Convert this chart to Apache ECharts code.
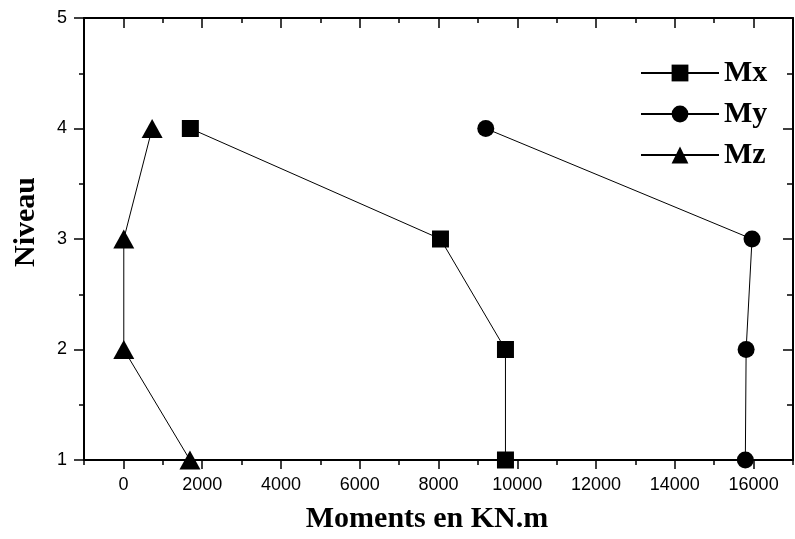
<!DOCTYPE html>
<html>
<head>
<meta charset="utf-8">
<script src="https://cdn.jsdelivr.net/npm/echarts@6/dist/echarts.min.js"></script>
<style>
html,body{margin:0;padding:0;background:#fff;}
#chart{width:795px;height:539px;}
</style>
</head>
<body>
<div id="chart"></div>
<script>
// Data
var levels = [1, 2, 3, 4];
var seriesNames = ['Mx', 'My', 'Mz'];
var mxValues = [9700, 9700, 8050, 1700];
var myValues = [15790, 15810, 15960, 9200];
var mzValues = [1690, 10, 10, 730];
var xTickLabels = [0, 2000, 4000, 6000, 8000, 10000, 12000, 14000, 16000];
var yTickLabels = [1, 2, 3, 4, 5];

function pairs(xs) {
  return xs.map(function (v, i) { return [v, levels[i]]; });
}

var chart = echarts.init(document.getElementById('chart'), null, {renderer: 'canvas'});
var sans = 'Liberation Sans';
var serif = 'Liberation Serif';
var black = '#000';
function plain(v) { return String(v); }

function xAxisBase(pos) {
  return {
    type: 'value', position: pos, min: -1000, max: 17000, interval: 1000,
    offset: 0, splitLine: {show: false},
    axisLine: {show: true, onZero: false, lineStyle: {color: black, width: 2}},
  };
}

var option = {
  animation: false,
  backgroundColor: '#fff',
  grid: {left: 84, right: 2, top: 18, bottom: 78, containLabel: false},
  legend: {
    orient: 'vertical', left: 635, top: 53,
    itemWidth: 78, itemHeight: 21, itemGap: 11,
    data: seriesNames,
    textStyle: {fontFamily: serif, fontWeight: 'bold', fontSize: 30, color: black}
  },
  xAxis: [
    Object.assign(xAxisBase('bottom'), {
      name: 'Moments en KN.m', nameLocation: 'middle', nameGap: 44,
      nameTextStyle: {fontFamily: serif, fontWeight: 'bold', fontSize: 30, color: black, padding: [0, 23, 0, 0]},
      axisTick: {show: true, length: 5, lineStyle: {color: black, width: 1.5}},
      axisLabel: {show: true, customValues: xTickLabels, formatter: plain, margin: 16, fontFamily: sans, fontSize: 18, color: black}
    }),
    Object.assign(xAxisBase('bottom'), {
      axisLine: {show: false},
      axisTick: {show: true, customValues: xTickLabels, length: 9, lineStyle: {color: black, width: 1.5}},
      axisLabel: {show: false}
    }),
    Object.assign(xAxisBase('top'), {
      axisTick: {show: true, inside: true, length: 5, lineStyle: {color: black, width: 1.5}},
      axisLabel: {show: false}
    }),
    Object.assign(xAxisBase('top'), {
      axisLine: {show: false},
      axisTick: {show: true, inside: true, customValues: xTickLabels, length: 10, lineStyle: {color: black, width: 1.5}},
      axisLabel: {show: false}
    })
  ],
  yAxis: [
    {
      type: 'value', position: 'left', min: 1, max: 5, interval: 1,
      name: 'Niveau', nameLocation: 'middle', nameGap: 43,
      nameTextStyle: {fontFamily: serif, fontWeight: 'bold', fontSize: 30, color: black, padding: [0, 0, 0, 34]},
      splitLine: {show: false},
      axisLine: {show: true, onZero: false, lineStyle: {color: black, width: 2}},
      axisTick: {show: true, length: 10, lineStyle: {color: black, width: 1.5}},
      minorTick: {show: true, splitNumber: 2, length: 5, lineStyle: {color: black, width: 1.5}},
      axisLabel: {show: true, customValues: yTickLabels, formatter: plain, margin: 17, fontFamily: sans, fontSize: 18, color: black}
    },
    {
      type: 'value', position: 'right', min: 1, max: 5, interval: 1,
      splitLine: {show: false},
      axisLine: {show: true, onZero: false, lineStyle: {color: black, width: 2}},
      axisTick: {show: true, inside: true, length: 10, lineStyle: {color: black, width: 1.5}},
      minorTick: {show: true, splitNumber: 2, length: 6, lineStyle: {color: black, width: 1.5}},
      axisLabel: {show: false}
    }
  ],
  series: [
    {
      name: 'Mx', type: 'line', xAxisIndex: 0, yAxisIndex: 0,
      data: pairs(mxValues), symbol: 'rect', symbolSize: 17,
      lineStyle: {color: black, width: 1}, itemStyle: {color: black}
    },
    {
      name: 'My', type: 'line', xAxisIndex: 0, yAxisIndex: 0,
      data: pairs(myValues), symbol: 'circle', symbolSize: 17,
      lineStyle: {color: black, width: 1}, itemStyle: {color: black}
    },
    {
      name: 'Mz', type: 'line', xAxisIndex: 0, yAxisIndex: 0,
      data: pairs(mzValues), symbol: 'triangle', symbolSize: [21, 19],
      lineStyle: {color: black, width: 1}, itemStyle: {color: black}
    }
  ]
};
chart.setOption(option);
</script>
</body>
</html>
